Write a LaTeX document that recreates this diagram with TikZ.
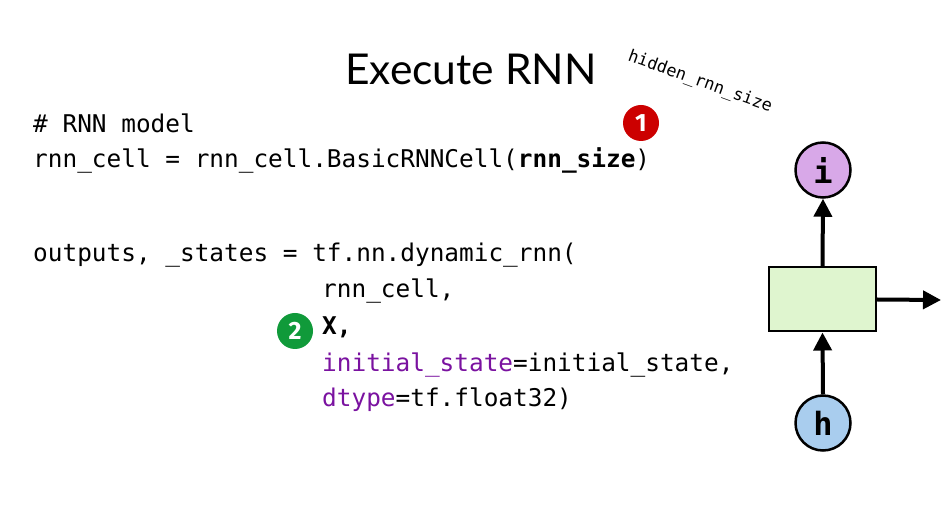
\documentclass[tikz,border=0pt]{standalone}
\usepackage{fontspec}
\setmainfont{Lato}
\newfontfamily\codefont{DejaVu Sans Mono}
\newfontfamily\badgefont{Fira Sans}
\usetikzlibrary{arrows.meta}
\definecolor{kwpurple}{RGB}{122,18,160}
\definecolor{badgered}{RGB}{204,0,0}
\definecolor{badgegreen}{RGB}{16,154,58}
\definecolor{cellgreen}{RGB}{223,245,207}
\definecolor{ilav}{RGB}{216,168,232}
\definecolor{hblue}{RGB}{169,205,238}
\tikzset{
  codeline/.style={anchor=base west, inner sep=0pt, font=\codefont\fontsize{24.4}{24.4}\selectfont},
  badge/.style={circle, inner sep=0pt, minimum size=36pt, text=white, font=\badgefont\bfseries\fontsize{25}{25}\selectfont},
  unitcircle/.style={circle, draw=black, line width=2.5pt, minimum size=55pt, inner sep=0pt, font=\codefont\bfseries\fontsize{32}{32}\selectfont},
  cellbox/.style={draw=black, line width=2pt, fill=cellgreen, minimum width=107pt, minimum height=64pt, inner sep=0pt},
  flow/.style={line width=4pt, -{Triangle[length=18pt,width=18pt]}}
}
\begin{document}
\begin{tikzpicture}[x=1pt,y=-1pt]
\useasboundingbox (0,0) rectangle (946,518);
\node[anchor=base, inner sep=0pt, font=\fontsize{42.5}{42.5}\selectfont] (title) at (471,85) {Execute RNN};
\node[inner sep=0pt, rotate=-20, font=\codefont\fontsize{16.8}{16.8}\selectfont] (hid) at (700,82) {hidden\_rnn\_size};

\node[codeline] (l1) at (33,133) {\# RNN model};
\node[codeline] (l2) at (33,168) {rnn\_cell = rnn\_cell.BasicRNNCell(\textbf{rnn\_size})};
\node[codeline] (l3) at (33,262) {outputs, \_states = tf.nn.dynamic\_rnn(};
\node[codeline] (l4) at (322,298) {rnn\_cell,};
\node[codeline] (l5) at (322,335) {\textbf{X,}};
\node[codeline] (l6) at (322,372) {\textcolor{kwpurple}{initial\_state}=initial\_state,};
\node[codeline] (l7) at (322,407) {\textcolor{kwpurple}{dtype}=tf.float32)};

\node[badge, fill=badgered] (b1) at (641,123) {1};
\node[badge, fill=badgegreen] (b2) at (295,331) {2};

\node[cellbox] (cell) at (822.5,299.5) {};
\node[unitcircle, fill=ilav] (i) at (823,170) {i};
\node[unitcircle, fill=hblue] (h) at (823,423) {h};
\coordinate (out) at (941,300);
\draw[flow] (cell.north) -- (i.south);
\draw[flow] (h.north) -- (cell.south);
\draw[flow] (cell.east) -- (out);
\end{tikzpicture}
\end{document}
